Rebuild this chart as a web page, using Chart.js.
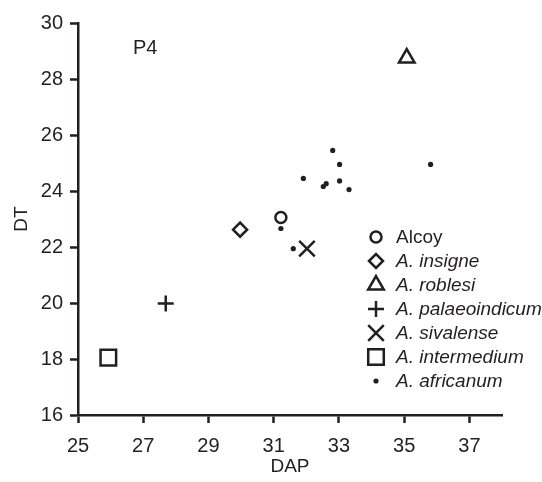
<!DOCTYPE html>
<html>
<head>
<meta charset="utf-8">
<script src="https://cdn.jsdelivr.net/npm/chart.js@4.4.0/dist/chart.umd.min.js"></script>
<style>
  html, body { margin: 0; padding: 0; background: #fff; }
</style>
</head>
<body>
<canvas id="chart" width="542" height="482"></canvas>
<script>
// tick labels
const xTicks = [25, 27, 29, 31, 33, 35, 37];
const yTicks = [16, 18, 20, 22, 24, 26, 28, 30];

// series (DAP, DT)
const alcoyX = [31.22];
const alcoyY = [23.05];
const insigneX = [29.97];
const insigneY = [22.62];
const roblesiX = [35.08];
const roblesiY = [28.75];
const palaeoindicumX = [27.69];
const palaeoindicumY = [19.98];
const sivalenseX = [32.02];
const sivalenseY = [21.94];
const intermediumX = [25.93];
const intermediumY = [18.05];
const africanumX = [32.81, 33.02, 35.81, 31.91, 32.52, 32.61, 33.02, 33.31, 31.22, 31.60];
const africanumY = [25.45, 24.95, 24.95, 24.45, 24.16, 24.26, 24.36, 24.05, 22.66, 21.94];

const INK = '#231f20';
const FONT = '"Liberation Sans", Arial, Helvetica, sans-serif';
const CLEAR = 'rgba(0,0,0,0)';

const toPoints = (xs, ys) => xs.map((x, i) => ({ x, y: ys[i] }));

const series = (label, xs, ys, pointStyle, pointRadius, borderWidth, fill) => ({
  label,
  data: toPoints(xs, ys),
  pointStyle,
  pointRadius,
  pointHoverRadius: pointRadius,
  borderWidth,
  borderColor: INK,
  backgroundColor: fill ? INK : CLEAR,
  showLine: false,
});

const datasets = [
  series('Alcoy', alcoyX, alcoyY, 'circle', 5.5, 2.5, false),
  series('A. insigne', insigneX, insigneY, 'rectRot', 7, 2.5, false),
  series('A. roblesi', roblesiX, roblesiY, 'triangle', 9, 2.5, false),
  series('A. palaeoindicum', palaeoindicumX, palaeoindicumY, 'cross', 8, 2.5, false),
  series('A. sivalense', sivalenseX, sivalenseY, 'crossRot', 11, 2.5, false),
  series('A. intermedium', intermediumX, intermediumY, 'rect', 11, 2.5, false),
  series('A. africanum', africanumX, africanumY, 'circle', 2.6, 0, true),
];

// legend drawn inside the plot, like the figure
const LEGEND_X = 376;
const LEGEND_TOP = 237;
const LEGEND_STEP = 24;

const speciesLegend = {
  id: 'speciesLegend',
  afterDraw(chart) {
    const ctx = chart.ctx;
    ctx.save();
    chart.data.datasets.forEach((ds, i) => {
      const y = LEGEND_TOP + i * LEGEND_STEP;
      ctx.strokeStyle = INK;
      ctx.fillStyle = ds.backgroundColor;
      ctx.lineWidth = ds.borderWidth;
      Chart.helpers.drawPoint(ctx, {
        pointStyle: ds.pointStyle,
        radius: ds.pointRadius,
        borderWidth: ds.borderWidth,
        rotation: 0,
      }, LEGEND_X, y);

      ctx.fillStyle = INK;
      ctx.font = (i === 0 ? '' : 'italic ') + '19px ' + FONT;
      ctx.textAlign = 'left';
      ctx.textBaseline = 'middle';
      ctx.fillText(ds.label, LEGEND_X + 20, y + 1);
    });

    ctx.font = '20px ' + FONT;
    ctx.fillText('P4', 133, 48);
    ctx.restore();
  },
};

const axisCommon = {
  type: 'linear',
  grid: {
    display: true,
    drawOnChartArea: false,
    drawTicks: true,
    tickLength: 8,
    tickWidth: 2.5,
    tickColor: INK,
  },
  border: { display: true, width: 2.5, color: INK },
  ticks: { color: INK, font: { family: FONT, size: 20 }, padding: 6 },
};

new Chart(document.getElementById('chart'), {
  type: 'scatter',
  data: { datasets },
  options: {
    responsive: false,
    animation: false,
    events: [],
    layout: { padding: { top: 23, right: 40, left: 0, bottom: 0 } },
    plugins: { legend: { display: false }, tooltip: { enabled: false } },
    scales: {
      x: {
        ...axisCommon,
        min: 25,
        max: 38,
        afterBuildTicks: (scale) => { scale.ticks = xTicks.map((v) => ({ value: v })); },
        afterFit: (scale) => { scale.height = 67; },
        ticks: { ...axisCommon.ticks, padding: 11 },
        title: {
          display: true, text: 'DAP', color: INK,
          font: { family: FONT, size: 19 }, padding: { top: 0, bottom: 4 },
        },
      },
      y: {
        ...axisCommon,
        min: 16,
        max: 30,
        afterBuildTicks: (scale) => { scale.ticks = yTicks.map((v) => ({ value: v })); },
        afterFit: (scale) => { scale.width = 78; },
        ticks: { ...axisCommon.ticks, padding: 7 },
        title: {
          display: true, text: 'DT', color: INK,
          font: { family: FONT, size: 19 }, padding: { top: 10, bottom: 0 },
        },
      },
    },
  },
  plugins: [speciesLegend],
});
</script>
</body>
</html>
